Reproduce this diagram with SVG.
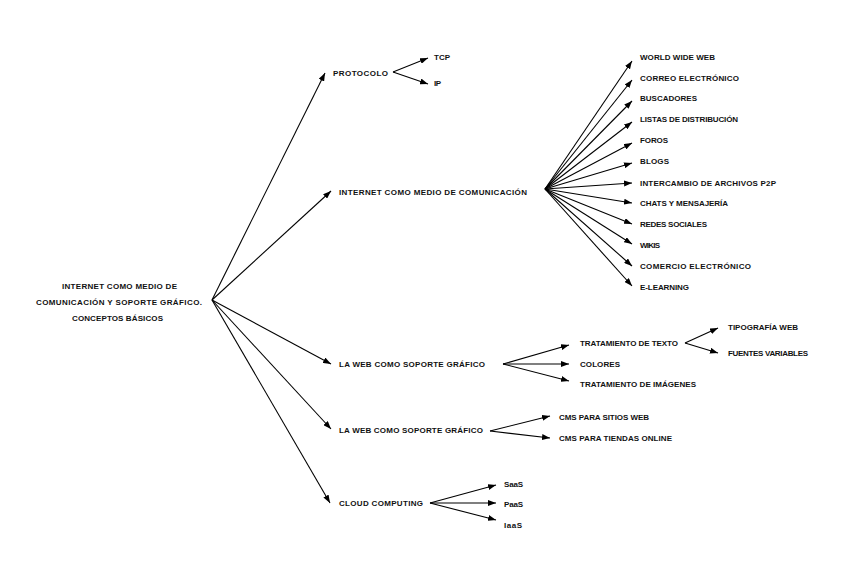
<svg xmlns="http://www.w3.org/2000/svg" width="848" height="587" viewBox="0 0 848 587">
<defs>
<marker id="ah" markerUnits="userSpaceOnUse" markerWidth="8" markerHeight="6" refX="8" refY="3" orient="auto">
<path d="M0,0 L8,3 L0,6 z" fill="#000"/>
</marker>
<style>
text{font-family:"Liberation Sans",Arial,sans-serif;font-size:8px;font-weight:bold;fill:#111;}
.c line{stroke:#000;stroke-width:1.1;marker-end:url(#ah);}
</style>
</defs>
<rect width="848" height="587" fill="#fff"/>
<g id="connectors" class="c">
<line x1="212" y1="300" x2="325" y2="73"/>
<line x1="212" y1="300" x2="331" y2="191"/>
<line x1="212" y1="300" x2="331" y2="364"/>
<line x1="212" y1="300" x2="331" y2="429"/>
<line x1="212" y1="300" x2="330" y2="503"/>
<line x1="393" y1="72" x2="428" y2="58"/>
<line x1="393" y1="72" x2="428" y2="84"/>
<line x1="545" y1="189" x2="632" y2="61"/>
<line x1="545" y1="189" x2="632" y2="80"/>
<line x1="545" y1="189" x2="632" y2="101"/>
<line x1="545" y1="189" x2="632" y2="122"/>
<line x1="545" y1="189" x2="632" y2="143"/>
<line x1="545" y1="189" x2="632" y2="163"/>
<line x1="545" y1="189" x2="632" y2="183"/>
<line x1="545" y1="189" x2="632" y2="203"/>
<line x1="545" y1="189" x2="632" y2="224"/>
<line x1="545" y1="189" x2="632" y2="244"/>
<line x1="545" y1="189" x2="632" y2="266"/>
<line x1="545" y1="189" x2="632" y2="286"/>
<line x1="503" y1="364" x2="569" y2="345"/>
<line x1="503" y1="364" x2="569" y2="364"/>
<line x1="503" y1="364" x2="569" y2="381"/>
<line x1="685" y1="343" x2="718" y2="328"/>
<line x1="685" y1="343" x2="718" y2="353"/>
<line x1="490" y1="431" x2="550" y2="416"/>
<line x1="490" y1="431" x2="550" y2="438"/>
<line x1="430" y1="503" x2="496" y2="485"/>
<line x1="430" y1="503" x2="496" y2="503"/>
<line x1="430" y1="503" x2="496" y2="520"/>
</g>
<g id="root">
<text x="62" y="289" textLength="115" lengthAdjust="spacing">INTERNET COMO MEDIO DE</text>
<text x="36" y="305" textLength="166" lengthAdjust="spacing">COMUNICACIÓN Y SOPORTE GRÁFICO.</text>
<text x="72" y="321" textLength="91" lengthAdjust="spacing">CONCEPTOS BÁSICOS</text>
</g>
<g id="protocolo"><text x="333" y="76" textLength="55" lengthAdjust="spacing">PROTOCOLO</text></g>
<g id="tcp"><text x="434" y="60" textLength="16" lengthAdjust="spacing">TCP</text></g>
<g id="ip"><text x="434" y="86" textLength="7" lengthAdjust="spacing">IP</text></g>
<g id="internet"><text x="339" y="195" textLength="188" lengthAdjust="spacing">INTERNET COMO MEDIO DE COMUNICACIÓN</text></g>
<g id="www"><text x="640" y="60" textLength="75" lengthAdjust="spacing">WORLD WIDE WEB</text></g>
<g id="correo"><text x="640" y="81" textLength="99" lengthAdjust="spacing">CORREO ELECTRÓNICO</text></g>
<g id="buscadores"><text x="640" y="101" textLength="57" lengthAdjust="spacing">BUSCADORES</text></g>
<g id="listas"><text x="640" y="122" textLength="98" lengthAdjust="spacing">LISTAS DE DISTRIBUCIÓN</text></g>
<g id="foros"><text x="640" y="143" textLength="28" lengthAdjust="spacing">FOROS</text></g>
<g id="blogs"><text x="640" y="164" textLength="29" lengthAdjust="spacing">BLOGS</text></g>
<g id="p2p"><text x="640" y="186" textLength="136" lengthAdjust="spacing">INTERCAMBIO DE ARCHIVOS P2P</text></g>
<g id="chats"><text x="640" y="206" textLength="88" lengthAdjust="spacing">CHATS Y MENSAJERÍA</text></g>
<g id="redes"><text x="640" y="227" textLength="67" lengthAdjust="spacing">REDES SOCIALES</text></g>
<g id="wikis"><text x="640" y="248" textLength="20" lengthAdjust="spacing">WIKIS</text></g>
<g id="comercio"><text x="640" y="269" textLength="111" lengthAdjust="spacing">COMERCIO ELECTRÓNICO</text></g>
<g id="elearning"><text x="640" y="290" textLength="49" lengthAdjust="spacing">E-LEARNING</text></g>
<g id="web1"><text x="339" y="367" textLength="146" lengthAdjust="spacing">LA WEB COMO SOPORTE GRÁFICO</text></g>
<g id="texto"><text x="580" y="346" textLength="98" lengthAdjust="spacing">TRATAMIENTO DE TEXTO</text></g>
<g id="colores"><text x="580" y="367" textLength="40" lengthAdjust="spacing">COLORES</text></g>
<g id="imagenes"><text x="580" y="387" textLength="116" lengthAdjust="spacing">TRATAMIENTO DE IMÁGENES</text></g>
<g id="tipografia"><text x="728" y="330" textLength="70" lengthAdjust="spacing">TIPOGRAFÍA WEB</text></g>
<g id="fuentes"><text x="728" y="356" textLength="80" lengthAdjust="spacing">FUENTES VARIABLES</text></g>
<g id="web2"><text x="339" y="433" textLength="144" lengthAdjust="spacing">LA WEB COMO SOPORTE GRÁFICO</text></g>
<g id="cms1"><text x="559" y="420" textLength="90" lengthAdjust="spacing">CMS PARA SITIOS WEB</text></g>
<g id="cms2"><text x="559" y="441" textLength="113" lengthAdjust="spacing">CMS PARA TIENDAS ONLINE</text></g>
<g id="cloud"><text x="339" y="506" textLength="84" lengthAdjust="spacing">CLOUD COMPUTING</text></g>
<g id="saas"><text x="504" y="487" textLength="19" lengthAdjust="spacing">SaaS</text></g>
<g id="paas"><text x="504" y="507" textLength="19" lengthAdjust="spacing">PaaS</text></g>
<g id="iaas"><text x="504" y="528" textLength="18" lengthAdjust="spacing">IaaS</text></g>
</svg>
